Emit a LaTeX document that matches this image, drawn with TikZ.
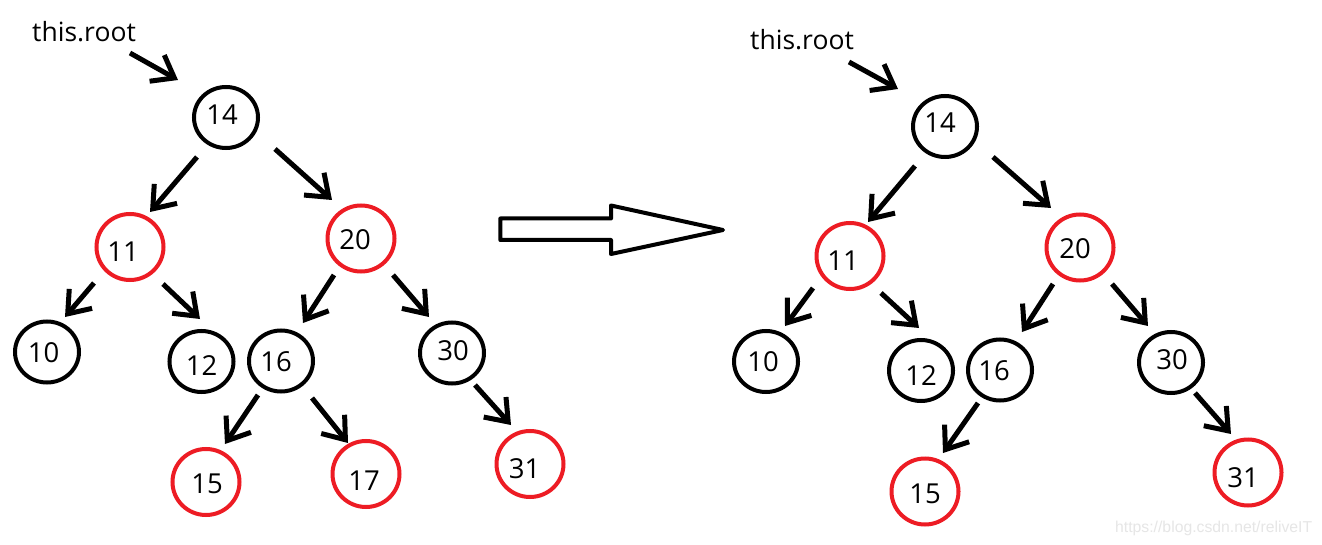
\documentclass[tikz,border=0pt]{standalone}
\usepackage{fontspec}
\setmainfont{Open Sans}
\newfontfamily\wmfont{Liberation Sans}
\usetikzlibrary{arrows.meta,shapes.geometric}
\definecolor{pred}{RGB}{237,28,36}
\definecolor{wmgray}{RGB}{230,230,230}
\newcommand\tx[3]{\makebox[0pt]{\hspace*{#1}\raisebox{#2}[0pt][0pt]{\raisebox{-.5\height}{#3}}}}
\begin{document}
\begin{tikzpicture}[x=1pt,y=-1pt,
  every node/.style={font=\fontsize{26.5}{30}\selectfont},
  bn/.style={ellipse, draw=black, line width=4pt, minimum width=64pt, minimum height=61pt, inner sep=0pt, font=\fontsize{27.5}{30}\selectfont},
  rn/.style={bn, draw=pred, minimum width=67pt, minimum height=66pt},
  arr/.style={line width=5pt, -{Straight Barb[length=20pt,width=30pt]}},
  lbl/.style={anchor=base west, inner sep=0pt},
  wm/.style={anchor=base west, inner sep=0pt, text=wmgray, font=\wmfont\fontsize{15.75}{18}\selectfont},
  bigarrow/.style={line width=4pt, line join=round, draw=black, fill=white}
]
\useasboundingbox (0,0) rectangle (1322,545);
\fill[white] (0,0) rectangle (1322,545);

% ---------- left tree ----------
\node[lbl] (Lroot) at (32,42) {this.root};
\coordinate (Lrs) at (130,53);
\node[bn] (L14) at (226,117.5) {\tx{-8pt}{3pt}{14}};
\node[rn] (L11) at (130,247) {\tx{-14pt}{-4.5pt}{11}};
\node[rn] (L20) at (361,238.5) {\tx{-12pt}{-1.5pt}{20}};
\node[bn] (L10) at (47,352) {\tx{-7pt}{-1pt}{10}};
\node[bn] (L12) at (201.5,361.5) {\tx{0pt}{-4.5pt}{12}};
\node[bn] (L16) at (281,361) {\tx{-10pt}{-1pt}{16}};
\node[bn] (L30) at (452,353) {\tx{2pt}{2pt}{30}};
\node[rn] (L15) at (206,482) {\tx{2pt}{-1.5pt}{15}};
\node[rn] (L17) at (366,474) {\tx{-4pt}{-7pt}{17}};
\node[rn] (L31) at (530,464) {\tx{-11pt}{-5pt}{31}};

\draw[arr] (Lrs) -- ([shift={(-48,-37.5)}]L14.center);
\draw[arr] ([shift={(-29,39.5)}]L14.center) -- ([shift={(20,-35)}]L11.center);
\draw[arr] ([shift={(49,31.5)}]L14.center) -- ([shift={(-29,-38.5)}]L20.center);
\draw[arr] ([shift={(-36,36)}]L11.center) -- ([shift={(18,-35)}]L10.center);
\draw[arr] ([shift={(33,37)}]L11.center) -- ([shift={(-1.5,-42.5)}]L12.center);
\draw[arr] ([shift={(-27,36.5)}]L20.center) -- ([shift={(22,-38)}]L16.center);
\draw[arr] ([shift={(32,36.5)}]L20.center) -- ([shift={(-23,-36)}]L30.center);
\draw[arr] ([shift={(-23,34)}]L16.center) -- ([shift={(19,-38)}]L15.center);
\draw[arr] ([shift={(31,37)}]L16.center) -- ([shift={(-18,-31)}]L17.center);
\draw[arr] ([shift={(23,32)}]L30.center) -- ([shift={(-19,-39)}]L31.center);

% ---------- transformation arrow ----------
\draw[bigarrow] (500.3,218.5) -- (611,218.5) -- (611,205.5) -- (723,230) -- (611,254) -- (611,240) -- (500.3,240) -- cycle;

% ---------- right tree ----------
\node[lbl] (Rroot) at (750,50) {this.root};
\coordinate (Rrs) at (849,62);
\node[bn] (R14) at (945,126.5) {\tx{-10pt}{3.5pt}{14}};
\node[rn] (R11) at (850,256) {\tx{-14pt}{-5pt}{11}};
\node[rn] (R20) at (1080,247.5) {\tx{-10pt}{-1pt}{20}};
\node[bn] (R10) at (766,361.5) {\tx{-6pt}{0pt}{10}};
\node[bn] (R12) at (921,370.5) {\tx{0pt}{-5pt}{12}};
\node[bn] (R16) at (1000,370) {\tx{-12pt}{-1pt}{16}};
\node[bn] (R30) at (1171,362.5) {\tx{2pt}{3pt}{30}};
\node[rn] (R15) at (925,491.5) {\tx{0pt}{-2pt}{15}};
\node[rn] (R31) at (1248,472.5) {\tx{-10pt}{-5.5pt}{31}};

\draw[arr] (Rrs) -- ([shift={(-47,-37.5)}]R14.center);
\draw[arr] ([shift={(-30,39.5)}]R14.center) -- ([shift={(18,-34)}]R11.center);
\draw[arr] ([shift={(48,30.5)}]R14.center) -- ([shift={(-29,-39.5)}]R20.center);
\draw[arr] ([shift={(-37,32)}]R11.center) -- ([shift={(19,-35.5)}]R10.center);
\draw[arr] ([shift={(31,37)}]R11.center) -- ([shift={(-2,-42.5)}]R12.center);
\draw[arr] ([shift={(-27,36.5)}]R20.center) -- ([shift={(22,-38)}]R16.center);
\draw[arr] ([shift={(32,36.5)}]R20.center) -- ([shift={(-23,-36.5)}]R30.center);
\draw[arr] ([shift={(-22,33)}]R16.center) -- ([shift={(18,-38.5)}]R15.center);
\draw[arr] ([shift={(24,30.5)}]R30.center) -- ([shift={(-17,-38.5)}]R31.center);

% ---------- watermark ----------
\node[wm] (wmark) at (1115,532) {https://blog.csdn.net/reliveIT};
\end{tikzpicture}
\end{document}
